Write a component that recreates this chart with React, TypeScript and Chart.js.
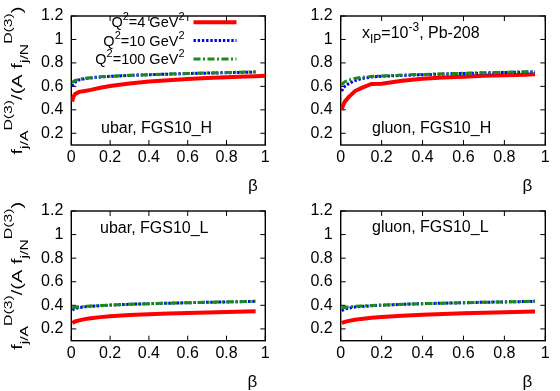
import React, { useEffect, useRef } from 'react';
import { Chart, registerables } from 'chart.js';

Chart.register(...registerables);

// ---------- data ----------
const betaGrid = [0.005, 0.01, 0.02, 0.04, 0.07, 0.1, 0.15, 0.2, 0.3, 0.4, 0.5, 0.6, 0.7, 0.8, 0.9, 0.95];
const betaGridTo1 = [0.005, 0.01, 0.02, 0.04, 0.07, 0.1, 0.15, 0.2, 0.3, 0.4, 0.5, 0.6, 0.7, 0.8, 0.9, 0.95, 1.0];

const ubarH_Q4 = [0.47, 0.51, 0.535, 0.553, 0.561, 0.57, 0.588, 0.603, 0.625, 0.641, 0.653, 0.663, 0.671, 0.678, 0.684, 0.687, 0.69];
const ubarH_Q10 = [0.6, 0.615, 0.635, 0.655, 0.665, 0.672, 0.68, 0.685, 0.693, 0.699, 0.704, 0.709, 0.713, 0.716, 0.72, 0.722];
const ubarH_Q100 = [0.63, 0.64, 0.65, 0.66, 0.668, 0.674, 0.681, 0.686, 0.694, 0.7, 0.705, 0.71, 0.714, 0.718, 0.722, 0.724];

const gluonH_Q4 = [0.4, 0.43, 0.47, 0.51, 0.56, 0.585, 0.62, 0.622, 0.648, 0.665, 0.675, 0.683, 0.69, 0.695, 0.7, 0.703];
const gluonH_Q10 = [0.56, 0.58, 0.6, 0.625, 0.65, 0.665, 0.68, 0.686, 0.693, 0.699, 0.705, 0.71, 0.714, 0.718, 0.722, 0.724];
const gluonH_Q100 = [0.61, 0.625, 0.64, 0.655, 0.668, 0.676, 0.684, 0.689, 0.696, 0.702, 0.707, 0.712, 0.716, 0.72, 0.724, 0.726];

const ubarL_Q4 = [0.25, 0.255, 0.263, 0.272, 0.283, 0.29, 0.3, 0.307, 0.317, 0.324, 0.33, 0.335, 0.34, 0.344, 0.348, 0.35];
const ubarL_Q10 = [0.36, 0.365, 0.372, 0.38, 0.387, 0.392, 0.397, 0.402, 0.409, 0.414, 0.418, 0.422, 0.426, 0.429, 0.432, 0.434];
const ubarL_Q100 = [0.378, 0.38, 0.383, 0.387, 0.391, 0.394, 0.398, 0.402, 0.409, 0.414, 0.418, 0.422, 0.426, 0.429, 0.432, 0.434];

const gluonL_Q4 = [0.25, 0.254, 0.26, 0.268, 0.278, 0.285, 0.294, 0.301, 0.312, 0.32, 0.327, 0.332, 0.337, 0.341, 0.345, 0.347];
const gluonL_Q10 = [0.355, 0.36, 0.368, 0.377, 0.385, 0.39, 0.396, 0.401, 0.408, 0.414, 0.418, 0.422, 0.426, 0.429, 0.432, 0.434];
const gluonL_Q100 = [0.378, 0.38, 0.383, 0.387, 0.391, 0.394, 0.398, 0.402, 0.409, 0.414, 0.418, 0.422, 0.426, 0.429, 0.432, 0.436];

const xTicks = [0, 0.2, 0.4, 0.6, 0.8, 1];
const yTicks = [0.2, 0.4, 0.6, 0.8, 1, 1.2];

type Seg = { t: string; k?: 'sub' | 'sup' };

const legendLabels: Seg[][] = [
  [{ t: 'Q' }, { t: '2', k: 'sup' }, { t: '=4 GeV' }, { t: '2', k: 'sup' }],
  [{ t: 'Q' }, { t: '2', k: 'sup' }, { t: '=10 GeV' }, { t: '2', k: 'sup' }],
  [{ t: 'Q' }, { t: '2', k: 'sup' }, { t: '=100 GeV' }, { t: '2', k: 'sup' }],
];

const yTitle: Seg[] = [
  { t: 'f' }, { t: 'j/A', k: 'sub' }, { t: 'D(3)', k: 'sup' },
  { t: '/(A f' }, { t: 'j/N', k: 'sub' }, { t: 'D(3)', k: 'sup' }, { t: ')' },
];

const nucleusLabel: Seg[] = [
  { t: 'x' }, { t: 'IP', k: 'sub' }, { t: '=10' }, { t: '-3', k: 'sup' }, { t: ', Pb-208' },
];

// ---------- styling ----------
const FONT = '"Liberation Sans", Arial, Helvetica, sans-serif';
const seriesStyles = [
  { color: '#ff0000', width: 4, dash: [] as number[], order: 3 },
  { color: '#0000ff', width: 3, dash: [2.4, 1.8], order: 2 },
  { color: '#1a8a1a', width: 3, dash: [7, 2.5, 2, 2.5], order: 1 },
];

const YW = 40;
const XH = 30;

type PanelCfg = {
  x: number; y: number; w: number; h: number;
  area: { l: number; r: number; t: number; b: number };
  series: { beta: number[]; vals: number[] }[];
  label: string; labelX: number; labelY: number;
  yTitle: boolean; legend: boolean; nucleus: boolean;
  betaX: number; betaY: number;
};

const panels: PanelCfg[] = [
  {
    x: 0, y: 0, w: 280, h: 195, area: { l: 71.3, r: 265.3, t: 8.3, b: 145 },
    series: [
      { beta: betaGridTo1, vals: ubarH_Q4 },
      { beta: betaGrid, vals: ubarH_Q10 },
      { beta: betaGrid, vals: ubarH_Q100 },
    ],
    label: 'ubar, FGS10_H', labelX: 101, labelY: 133, yTitle: true, legend: true, nucleus: false,
    betaX: 253, betaY: 191,
  },
  {
    x: 280, y: 0, w: 280, h: 195, area: { l: 60.7, r: 265.3, t: 8.3, b: 145 },
    series: [
      { beta: betaGrid, vals: gluonH_Q4 },
      { beta: betaGrid, vals: gluonH_Q10 },
      { beta: betaGrid, vals: gluonH_Q100 },
    ],
    label: 'gluon, FGS10_H', labelX: 92, labelY: 133, yTitle: false, legend: false, nucleus: true,
    betaX: 247.5, betaY: 191,
  },
  {
    x: 0, y: 195, w: 280, h: 196, area: { l: 71.3, r: 265.3, t: 8.3, b: 145.7 },
    series: [
      { beta: betaGrid, vals: ubarL_Q4 },
      { beta: betaGrid, vals: ubarL_Q10 },
      { beta: betaGrid, vals: ubarL_Q100 },
    ],
    label: 'ubar, FGS10_L', labelX: 100, labelY: 38, yTitle: true, legend: false, nucleus: false,
    betaX: 252.5, betaY: 192,
  },
  {
    x: 280, y: 195, w: 280, h: 196, area: { l: 60.7, r: 265.3, t: 8.3, b: 145.7 },
    series: [
      { beta: betaGrid, vals: gluonL_Q4 },
      { beta: betaGrid, vals: gluonL_Q10 },
      { beta: betaGrid, vals: gluonL_Q100 },
    ],
    label: 'gluon, FGS10_L', labelX: 92, labelY: 37, yTitle: false, legend: false, nucleus: false,
    betaX: 247.5, betaY: 192,
  },
];

function fmtTick(v: number | string) {
  const n = Math.round(Number(v) * 10) / 10;
  return String(n);
}

function measureRich(ctx: CanvasRenderingContext2D, segs: Seg[], size: number, small: number) {
  let w = 0;
  for (const s of segs) {
    ctx.font = `${s.k ? small : size}px ${FONT}`;
    w += ctx.measureText(s.t).width;
  }
  return w;
}

function drawRich(
  ctx: CanvasRenderingContext2D, segs: Seg[], x: number, y: number,
  size: number, small: number, align: 'left' | 'right' | 'center', subDy: number, supDy: number,
) {
  const w = measureRich(ctx, segs, size, small);
  let cx = align === 'right' ? x - w : align === 'center' ? x - w / 2 : x;
  ctx.textAlign = 'left';
  ctx.textBaseline = 'alphabetic';
  for (const s of segs) {
    ctx.font = `${s.k ? small : size}px ${FONT}`;
    const dy = s.k === 'sub' ? subDy : s.k === 'sup' ? supDy : 0;
    ctx.fillText(s.t, cx, y + dy);
    cx += ctx.measureText(s.t).width;
  }
  return w;
}

function Panel({ cfg }: { cfg: PanelCfg }) {
  const ref = useRef<HTMLCanvasElement>(null);
  useEffect(() => {
    const canvas = ref.current!;
    const a = cfg.area;
    const decor = {
      id: 'decor',
      beforeDatasetsDraw(chart: any) {
        const { ctx, chartArea: ca, scales } = chart;
        ctx.save();
        ctx.strokeStyle = '#000';
        ctx.lineWidth = 1.4;
        ctx.strokeRect(ca.left, ca.top, ca.right - ca.left, ca.bottom - ca.top);
        ctx.lineWidth = 1;
        ctx.beginPath();
        for (const v of xTicks) {
          const px = scales.x.getPixelForValue(v);
          ctx.moveTo(px, ca.bottom); ctx.lineTo(px, ca.bottom - 5);
          ctx.moveTo(px, ca.top); ctx.lineTo(px, ca.top + 5);
        }
        for (const v of yTicks) {
          const py = scales.y.getPixelForValue(v);
          ctx.moveTo(ca.left, py); ctx.lineTo(ca.left + 5, py);
          ctx.moveTo(ca.right, py); ctx.lineTo(ca.right - 5, py);
        }
        ctx.stroke();
        ctx.restore();
      },
      afterDatasetsDraw(chart: any) {
        const { ctx, chartArea: ca } = chart;
        ctx.save();
        ctx.fillStyle = '#000';
        // panel label
        ctx.font = `16px ${FONT}`;
        ctx.textAlign = 'left';
        ctx.textBaseline = 'alphabetic';
        ctx.fillText(cfg.label, cfg.labelX, cfg.labelY);
        // beta axis label
        ctx.font = `17px ${FONT}`;
        ctx.textAlign = 'center';
        ctx.fillText('β', cfg.betaX, cfg.betaY);
        if (cfg.nucleus) {
          drawRich(ctx, nucleusLabel, 82, 38, 16, 12, 'left', 5, -7);
        }
        if (cfg.legend) {
          const rows = [27.3, 45.6, 63.9];
          rows.forEach((by, i) => {
            ctx.fillStyle = '#000';
            drawRich(ctx, legendLabels[i], 184.5, by, 14.5, 11, 'right', 4, -7);
            const st = seriesStyles[i];
            ctx.strokeStyle = st.color;
            ctx.lineWidth = st.width;
            ctx.setLineDash(st.dash);
            ctx.beginPath();
            ctx.moveTo(193.5, by - 5);
            ctx.lineTo(236.5, by - 5);
            ctx.stroke();
            ctx.setLineDash([]);
          });
        }
        if (cfg.yTitle) {
          const cy = (ca.top + ca.bottom) / 2;
          const w = measureRich(ctx, yTitle, 14, 11);
          const s = 148 / w;
          ctx.translate(21.5, cy);
          ctx.rotate(-Math.PI / 2);
          ctx.scale(s, 1);
          ctx.fillStyle = '#000';
          drawRich(ctx, yTitle, 0, 0, 14, 11, 'center', 6, -10);
        }
        ctx.restore();
      },
    };
    const chart = new Chart(canvas, {
      type: 'line',
      data: {
        datasets: cfg.series.map((s, i) => ({
          data: s.beta.map((b, j) => ({ x: b, y: s.vals[j] })),
          borderColor: seriesStyles[i].color,
          borderWidth: seriesStyles[i].width,
          borderDash: seriesStyles[i].dash,
          order: seriesStyles[i].order,
          pointRadius: 0,
          tension: 0,
          fill: false,
        })),
      },
      options: {
        animation: false,
        responsive: false,
        events: [],
        layout: {
          padding: {
            left: a.l - YW,
            right: cfg.w - a.r,
            top: a.t,
            bottom: cfg.h - a.b - XH,
          },
        },
        plugins: { legend: { display: false }, tooltip: { enabled: false } },
        scales: {
          x: {
            type: 'linear',
            min: 0,
            max: 1,
            afterBuildTicks: (s: any) => { s.ticks = xTicks.map((v) => ({ value: v })); },
            afterFit: (s: any) => { s.height = XH; },
            grid: { display: false, drawTicks: false },
            border: { display: false },
            ticks: {
              padding: 3,
              color: '#000',
              maxRotation: 0,
              autoSkip: false,
              font: { family: FONT, size: 16, lineHeight: 1.2 },
              callback: (v: any) => fmtTick(v),
            },
          },
          y: {
            type: 'linear',
            min: 0.1,
            max: 1.2,
            afterBuildTicks: (s: any) => { s.ticks = yTicks.map((v) => ({ value: v })); },
            afterFit: (s: any) => { s.width = YW; },
            grid: { display: false, drawTicks: false },
            border: { display: false },
            ticks: {
              padding: 8,
              color: '#000',
              autoSkip: false,
              font: { family: FONT, size: 16, lineHeight: 1 },
              callback: (v: any) => fmtTick(v),
            },
          },
        },
      },
      plugins: [decor],
    } as any);
    return () => chart.destroy();
  }, [cfg]);
  return (
    <div style={{ position: 'absolute', left: cfg.x, top: cfg.y, width: cfg.w, height: cfg.h }}>
      <canvas ref={ref} width={cfg.w} height={cfg.h} style={{ width: cfg.w, height: cfg.h, display: 'block' }} />
    </div>
  );
}

export default function App() {
  return (
    <div style={{ position: 'absolute', left: 0, top: 0, width: 560, height: 391, background: '#fff', overflow: 'hidden' }}>
      {panels.map((p, i) => (
        <Panel key={i} cfg={p} />
      ))}
    </div>
  );
}
